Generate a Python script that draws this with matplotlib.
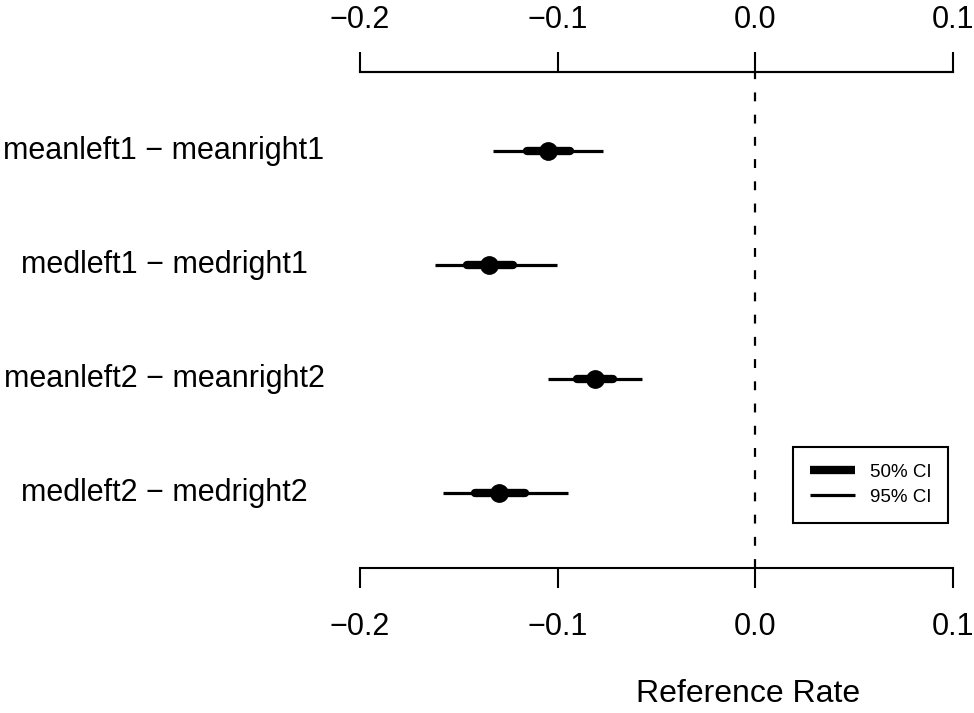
import matplotlib
matplotlib.use("Agg")
import matplotlib.pyplot as plt
import matplotlib.transforms as mtransforms
from matplotlib.lines import Line2D

plt.rcParams['font.family'] = ['Liberation Sans', 'DejaVu Sans']

labels = ["meanleft1 \u2212 meanright1", "medleft1 \u2212 medright1",
          "meanleft2 \u2212 meanright2", "medleft2 \u2212 medright2"]
est = [-0.1048, -0.1346, -0.0810, -0.1296]
lo50 = [-0.1154, -0.1457, -0.0901, -0.1417]
hi50 = [-0.0936, -0.1225, -0.0719, -0.1164]
lo95 = [-0.1326, -0.1620, -0.1048, -0.1579]
hi95 = [-0.0769, -0.1002, -0.0572, -0.0946]
xticks = [-0.2, -0.1, 0.0, 0.1]
xticklabels = ["\u22120.2", "\u22120.1", "0.0", "0.1"]

W, H = 974, 713
fig = plt.figure(figsize=(W / 100, H / 100), dpi=100)
ax = fig.add_axes([360 / W, 1 - 568 / H, 593 / W, 496 / H])

rows = list(range(1, len(labels) + 1))
for y, a, b, c, d, m in zip(rows, lo95, hi95, lo50, hi50, est):
    ax.plot([a, b], [y, y], color='black', lw=2.3, solid_capstyle='butt')
    ax.plot([c, d], [y, y], color='black', lw=6, solid_capstyle='round')
    ax.plot([m], [y], 'o', color='black', ms=12.5)

ax.axvline(0, color='black', lw=1.6, linestyle=(0, (4, 6)))

ax.set_xlim(-0.2, 0.1)
ax.set_ylim(4.66, 0.31)
ax.set_yticks([])
ax.set_xticks(xticks)
ax.set_xticklabels(xticklabels)
ax.tick_params(axis='x', top=False, labeltop=False, bottom=True, labelbottom=True,
               direction='out', length=14.4, width=1.5, labelsize=22, pad=17)
for s in ['left', 'right']:
    ax.spines[s].set_visible(False)
for s in ['top', 'bottom']:
    ax.spines[s].set_linewidth(1.5)
ax.patch.set_visible(False)

# top axis, same scale, own label spacing
axt = ax.twiny()
axt.set_xlim(ax.get_xlim())
axt.set_xticks(xticks)
axt.set_xticklabels(xticklabels)
axt.tick_params(axis='x', direction='out', length=14.4, width=1.5, labelsize=22, pad=12)
for s in ['left', 'right', 'bottom']:
    axt.spines[s].set_visible(False)
axt.spines['top'].set_linewidth(1.5)

trans = mtransforms.blended_transform_factory(fig.transFigure, ax.transData)
for y, lab in zip(rows, labels):
    ax.text(164 / W, y, lab, transform=trans, ha='center', va='center', fontsize=22)

fig.text(748 / W, 1 - 694 / H, "Reference Rate", ha='center', va='center', fontsize=23)

handles = [Line2D([], [], color='black', lw=6, solid_capstyle='butt'),
           Line2D([], [], color='black', lw=2.3, solid_capstyle='butt')]
leg = ax.legend(handles, ["50% CI", "95% CI"], loc='upper left',
                bbox_to_anchor=(793 / W, 1 - 447 / H), bbox_transform=fig.transFigure,
                fontsize=13.5, frameon=True, fancybox=False, framealpha=1,
                edgecolor='black', borderaxespad=0, borderpad=0.9,
                handlelength=2.4, handletextpad=0.8, labelspacing=0.4)
leg.get_frame().set_linewidth(1.5)

fig.savefig("out.png", dpi=100)
